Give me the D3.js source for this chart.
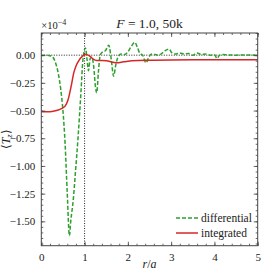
<!DOCTYPE html>
<html><head><meta charset="utf-8">
<script src="https://cdn.jsdelivr.net/npm/d3@7"></script>
<style>body{margin:0;background:#fff}svg{display:block}</style>
</head><body><div id="c"></div>
<script>
const diffR = [0,0.1,0.2,0.27,0.33,0.39,0.45,0.5,0.55,0.6,0.65,0.68,0.74,0.79,0.85,0.92,0.96,1.02,1.06,1.09,1.13,1.17,1.21,1.25,1.28,1.32,1.36,1.42,1.48,1.56,1.62,1.67,1.72,1.78,1.85,1.92,2.0,2.08,2.16,2.22,2.28,2.34,2.42,2.48,2.55,2.63,2.7,2.8,2.88,2.95,3.02,3.1,3.2,3.3,3.4,3.5,3.6,3.7,3.8,3.9,4.0,4.06,4.12,4.2,4.3,4.5,4.7,5.0];
const diffV = [0,0,-0.005,-0.02,-0.07,-0.16,-0.31,-0.5,-0.8,-1.25,-1.63,-1.5,-1.30,-1.05,-0.74,-0.31,-0.05,0.065,-0.05,-0.14,-0.03,-0.02,-0.10,-0.28,-0.34,-0.15,0.0,0.03,0.04,0.09,-0.05,-0.19,-0.09,-0.01,0.01,0.005,0.03,0.08,0.115,0.07,0.015,0.0,-0.07,-0.02,0.01,0.005,0.0,0.02,0.045,0.055,0.02,0.01,0.02,0.01,0.015,0.0,0.02,0.005,0.01,0.0,0.005,-0.03,0.0,0.005,0.002,0.0,0.002,0.0];
const intR = [0,0.2,0.3,0.43,0.5,0.55,0.62,0.69,0.75,0.8,0.85,0.96,1.03,1.12,1.2,1.28,1.4,1.51,1.6,1.74,1.9,2.1,2.5,3.0,4.0,5.0];
const intV = [-0.51,-0.51,-0.505,-0.49,-0.475,-0.46,-0.40,-0.28,-0.16,-0.10,-0.06,-0.006,0.005,-0.008,-0.036,-0.048,-0.048,-0.05,-0.06,-0.068,-0.06,-0.05,-0.045,-0.043,-0.042,-0.041];
const xTicks = [0,1,2,3,4,5];
const yTicks = [-1.5,-1.25,-1.0,-0.75,-0.5,-0.25,0];
const seriesNames = ["differential","integrated"];

const FONT="Liberation Serif";
const W=277,H=277, m={l:41.3,r:19.3,t:33,b:31.3};
const svg=d3.select("#c").append("svg").attr("width",W).attr("height",H).attr("font-family",FONT);
const x=d3.scaleLinear().domain([0,5]).range([m.l,W-m.r]);
const y=d3.scaleLinear().domain([-1.72,0.2]).range([H-m.b,m.t]);
const spine="#444";
const fmt=v=>(v<0?"\u2212":"")+Math.abs(v).toFixed(2);

svg.append("clipPath").attr("id","cp").append("rect").attr("x",m.l).attr("y",m.t).attr("width",W-m.l-m.r).attr("height",H-m.t-m.b);

svg.append("line").attr("x1",x(0)).attr("x2",x(5)).attr("y1",y(0)).attr("y2",y(0)).attr("stroke","#222").attr("stroke-width",1).attr("stroke-dasharray","1,1.5");
svg.append("line").attr("x1",x(1)).attr("x2",x(1)).attr("y1",y(0.2)).attr("y2",y(-1.72)).attr("stroke","#222").attr("stroke-width",1).attr("stroke-dasharray","1,1.5");

const line=d3.line().curve(d3.curveMonotoneX);
const g=svg.append("g").attr("clip-path","url(#cp)");
g.append("path").attr("d",line(diffR.map((r,i)=>[x(r),y(diffV[i])]))).attr("fill","none").attr("stroke","#2ca02c").attr("stroke-width",1.5).attr("stroke-dasharray","4,2");
g.append("path").attr("d",line(intR.map((r,i)=>[x(r),y(intV[i])]))).attr("fill","none").attr("stroke","#d62728").attr("stroke-width",1.5);

const xMinor=d3.range(0,5.001,0.2).map(v=>+v.toFixed(2));
const yMinor=d3.range(-1.70,0.2001,0.05).map(v=>+v.toFixed(2));
function ax(tr, a){ const gg=svg.append("g").attr("transform",tr); gg.call(a); gg.attr("font-family",FONT); return gg; }
ax(`translate(0,${H-m.b})`, d3.axisBottom(x).tickValues(xMinor).tickSizeInner(-2).tickSizeOuter(0).tickFormat(""));
ax(`translate(0,${H-m.b})`, d3.axisBottom(x).tickValues(xTicks).tickSizeInner(-4).tickSizeOuter(0).tickPadding(8).tickFormat(d3.format("d")));
ax(`translate(0,${m.t})`, d3.axisTop(x).tickValues(xMinor).tickSizeInner(-2).tickSizeOuter(0).tickFormat(""));
ax(`translate(0,${m.t})`, d3.axisTop(x).tickValues(xTicks).tickSizeInner(-4).tickSizeOuter(0).tickFormat(""));
ax(`translate(${m.l},0)`, d3.axisLeft(y).tickValues(yMinor).tickSizeInner(-2).tickSizeOuter(0).tickFormat(""));
ax(`translate(${m.l},0)`, d3.axisLeft(y).tickValues(yTicks).tickSizeInner(-4).tickSizeOuter(0).tickPadding(6).tickFormat(fmt));
ax(`translate(${W-m.r},0)`, d3.axisRight(y).tickValues(yMinor).tickSizeInner(-2).tickSizeOuter(0).tickFormat(""));
ax(`translate(${W-m.r},0)`, d3.axisRight(y).tickValues(yTicks).tickSizeInner(-4).tickSizeOuter(0).tickFormat(""));
svg.selectAll(".domain").remove();
svg.selectAll(".tick line").attr("stroke",spine).attr("stroke-width",0.8);
svg.selectAll(".tick text").attr("font-size",11);
svg.append("rect").attr("x",m.l).attr("y",m.t).attr("width",W-m.l-m.r).attr("height",H-m.t-m.b).attr("fill","none").attr("stroke",spine).attr("stroke-width",1);

const t=svg.append("text").attr("x",(m.l+W-m.r)/2).attr("y",28).attr("text-anchor","middle").attr("font-size",13.5);
t.append("tspan").attr("font-style","italic").text("F");
t.append("tspan").text(" = 1.0, 50k");
const mu=svg.append("text").attr("x",m.l).attr("y",29).attr("font-size",10.5);
mu.append("tspan").text("\u00d710");
mu.append("tspan").attr("dy",-4).attr("font-size",8).text("\u22124");
const xl=svg.append("text").attr("x",(m.l+W-m.r)/2).attr("y",268).attr("text-anchor","middle").attr("font-size",12);
xl.append("tspan").attr("font-style","italic").text("r");
xl.append("tspan").text("/");
xl.append("tspan").attr("font-style","italic").text("a");
const yl=svg.append("text").attr("transform",`translate(10,${(m.t+H-m.b)/2}) rotate(-90)`).attr("text-anchor","middle").attr("font-size",12);
yl.append("tspan").text("\u27e8");
yl.append("tspan").attr("font-style","italic").text("T");
yl.append("tspan").attr("font-style","italic").attr("font-size",8.5).attr("dy",2).text("z");
yl.append("tspan").attr("dy",-2).text("\u27e9");

const cols=["#2ca02c","#d62728"], dashes=["4,2",null];
seriesNames.forEach((n,i)=>{
  const yy=218+i*15;
  svg.append("line").attr("x1",176).attr("x2",198).attr("y1",yy).attr("y2",yy).attr("stroke",cols[i]).attr("stroke-width",1.5).attr("stroke-dasharray",dashes[i]);
  svg.append("text").attr("x",201).attr("y",yy+3.5).attr("font-size",11.5).text(n);
});
svg.selectAll("text, tspan").attr("font-family",FONT).style("font-family",FONT).attr("fill","#222");
</script></body></html>
